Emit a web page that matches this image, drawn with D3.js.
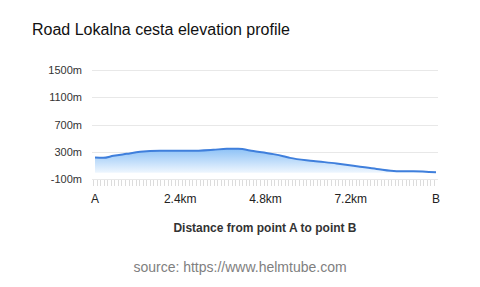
<!DOCTYPE html>
<html>
<head>
<meta charset="utf-8">
<script src="https://cdn.jsdelivr.net/npm/d3@7"></script>
<style>
  body { margin: 0; background: #fff; font-family: "Liberation Sans", Arial, sans-serif; }
</style>
</head>
<body>
<script>
// elevation profile
var distKm = [0, 0.23, 0.52, 0.89, 1.27, 1.83, 2.67, 3.33, 3.71, 4.03, 4.46, 5.02, 5.30, 5.49, 6.15, 6.80, 7.37, 7.93, 8.49, 8.96, 9.6];
var elevM  = [222, 216, 246, 275, 304, 319, 319, 334, 348, 348, 315, 271, 241, 216, 172, 134, 95, 55, 22, 22, 5];
var yTicks = [-100, 300, 700, 1100, 1500];
var xTicks = [0, 2.4, 4.8, 7.2, 9.6];
var xTickLabels = ["A", "2.4km", "4.8km", "7.2km", "B"];

var width = 480, height = 287;
var svg = d3.select("body").append("svg")
    .attr("width", width)
    .attr("height", height);

var data = distKm.map(function (d, i) { return { d: d, e: elevM[i] }; });

var x = d3.scaleLinear().domain([0, 9.6]).range([95, 436]);
var y = d3.scaleLinear().domain([-100, 1500]).range([179.5, 70]);

// title
svg.append("text")
    .attr("x", 32).attr("y", 35)
    .attr("font-size", 16)
    .attr("fill", "#111")
    .text("Road Lokalna cesta elevation profile");

// gridlines
svg.append("g").selectAll("line")
    .data(yTicks.slice(1))
    .enter().append("line")
    .attr("x1", 92).attr("x2", 438)
    .attr("y1", function (d) { return Math.round(y(d)) + 0.5; })
    .attr("y2", function (d) { return Math.round(y(d)) + 0.5; })
    .attr("stroke", "#e8e8e8")
    .attr("stroke-width", 1);

// y labels
svg.append("g").selectAll("text")
    .data(yTicks)
    .enter().append("text")
    .attr("x", 82)
    .attr("y", function (d) { return y(d); })
    .attr("dy", "0.35em")
    .attr("text-anchor", "end")
    .attr("font-size", 11)
    .attr("fill", "#333")
    .text(function (d) { return d + "m"; });

// small ticks band along the bottom
var minor = d3.range(0, 9.6001, 0.1);
svg.append("line")
    .attr("x1", 92).attr("x2", 438)
    .attr("y1", 179.5).attr("y2", 179.5)
    .attr("stroke", "#e8e8e8");
svg.append("g").selectAll("line")
    .data(minor)
    .enter().append("line")
    .attr("x1", function (d) { return Math.round(x(d) - 2) + 0.5; })
    .attr("x2", function (d) { return Math.round(x(d) - 2) + 0.5; })
    .attr("y1", 180).attr("y2", 186)
    .attr("stroke", "#dcdcdc");

// area with gradient
var grad = svg.append("defs").append("linearGradient")
    .attr("id", "fillGrad")
    .attr("x1", 0).attr("y1", 0).attr("x2", 0).attr("y2", 1);
grad.append("stop").attr("offset", "0%").attr("stop-color", "#8ec2f6");
grad.append("stop").attr("offset", "100%").attr("stop-color", "#eef6fe");

var area = d3.area()
    .x(function (d) { return x(d.d); })
    .y0(y(0))
    .y1(function (d) { return y(d.e); })
    .curve(d3.curveMonotoneX);

svg.append("path")
    .datum(data)
    .attr("d", area)
    .attr("fill", "url(#fillGrad)");

var line = d3.line()
    .x(function (d) { return x(d.d); })
    .y(function (d) { return y(d.e); })
    .curve(d3.curveMonotoneX);

svg.append("path")
    .datum(data)
    .attr("d", line)
    .attr("fill", "none")
    .attr("stroke", "#3f7fdc")
    .attr("stroke-width", 2);

// x labels
svg.append("g").selectAll("text")
    .data(xTicks)
    .enter().append("text")
    .attr("x", function (d) { return x(d); })
    .attr("y", 203)
    .attr("text-anchor", "middle")
    .attr("font-size", 12)
    .attr("fill", "#222")
    .text(function (d, i) { return xTickLabels[i]; });

// axis title
svg.append("text")
    .attr("x", 265).attr("y", 232)
    .attr("text-anchor", "middle")
    .attr("font-size", 12)
    .attr("font-weight", "bold")
    .attr("fill", "#333")
    .text("Distance from point A to point B");

// source
svg.append("text")
    .attr("x", 240).attr("y", 272)
    .attr("text-anchor", "middle")
    .attr("font-size", 14)
    .attr("fill", "#808080")
    .text("source: https://www.helmtube.com");
</script>
</body>
</html>
